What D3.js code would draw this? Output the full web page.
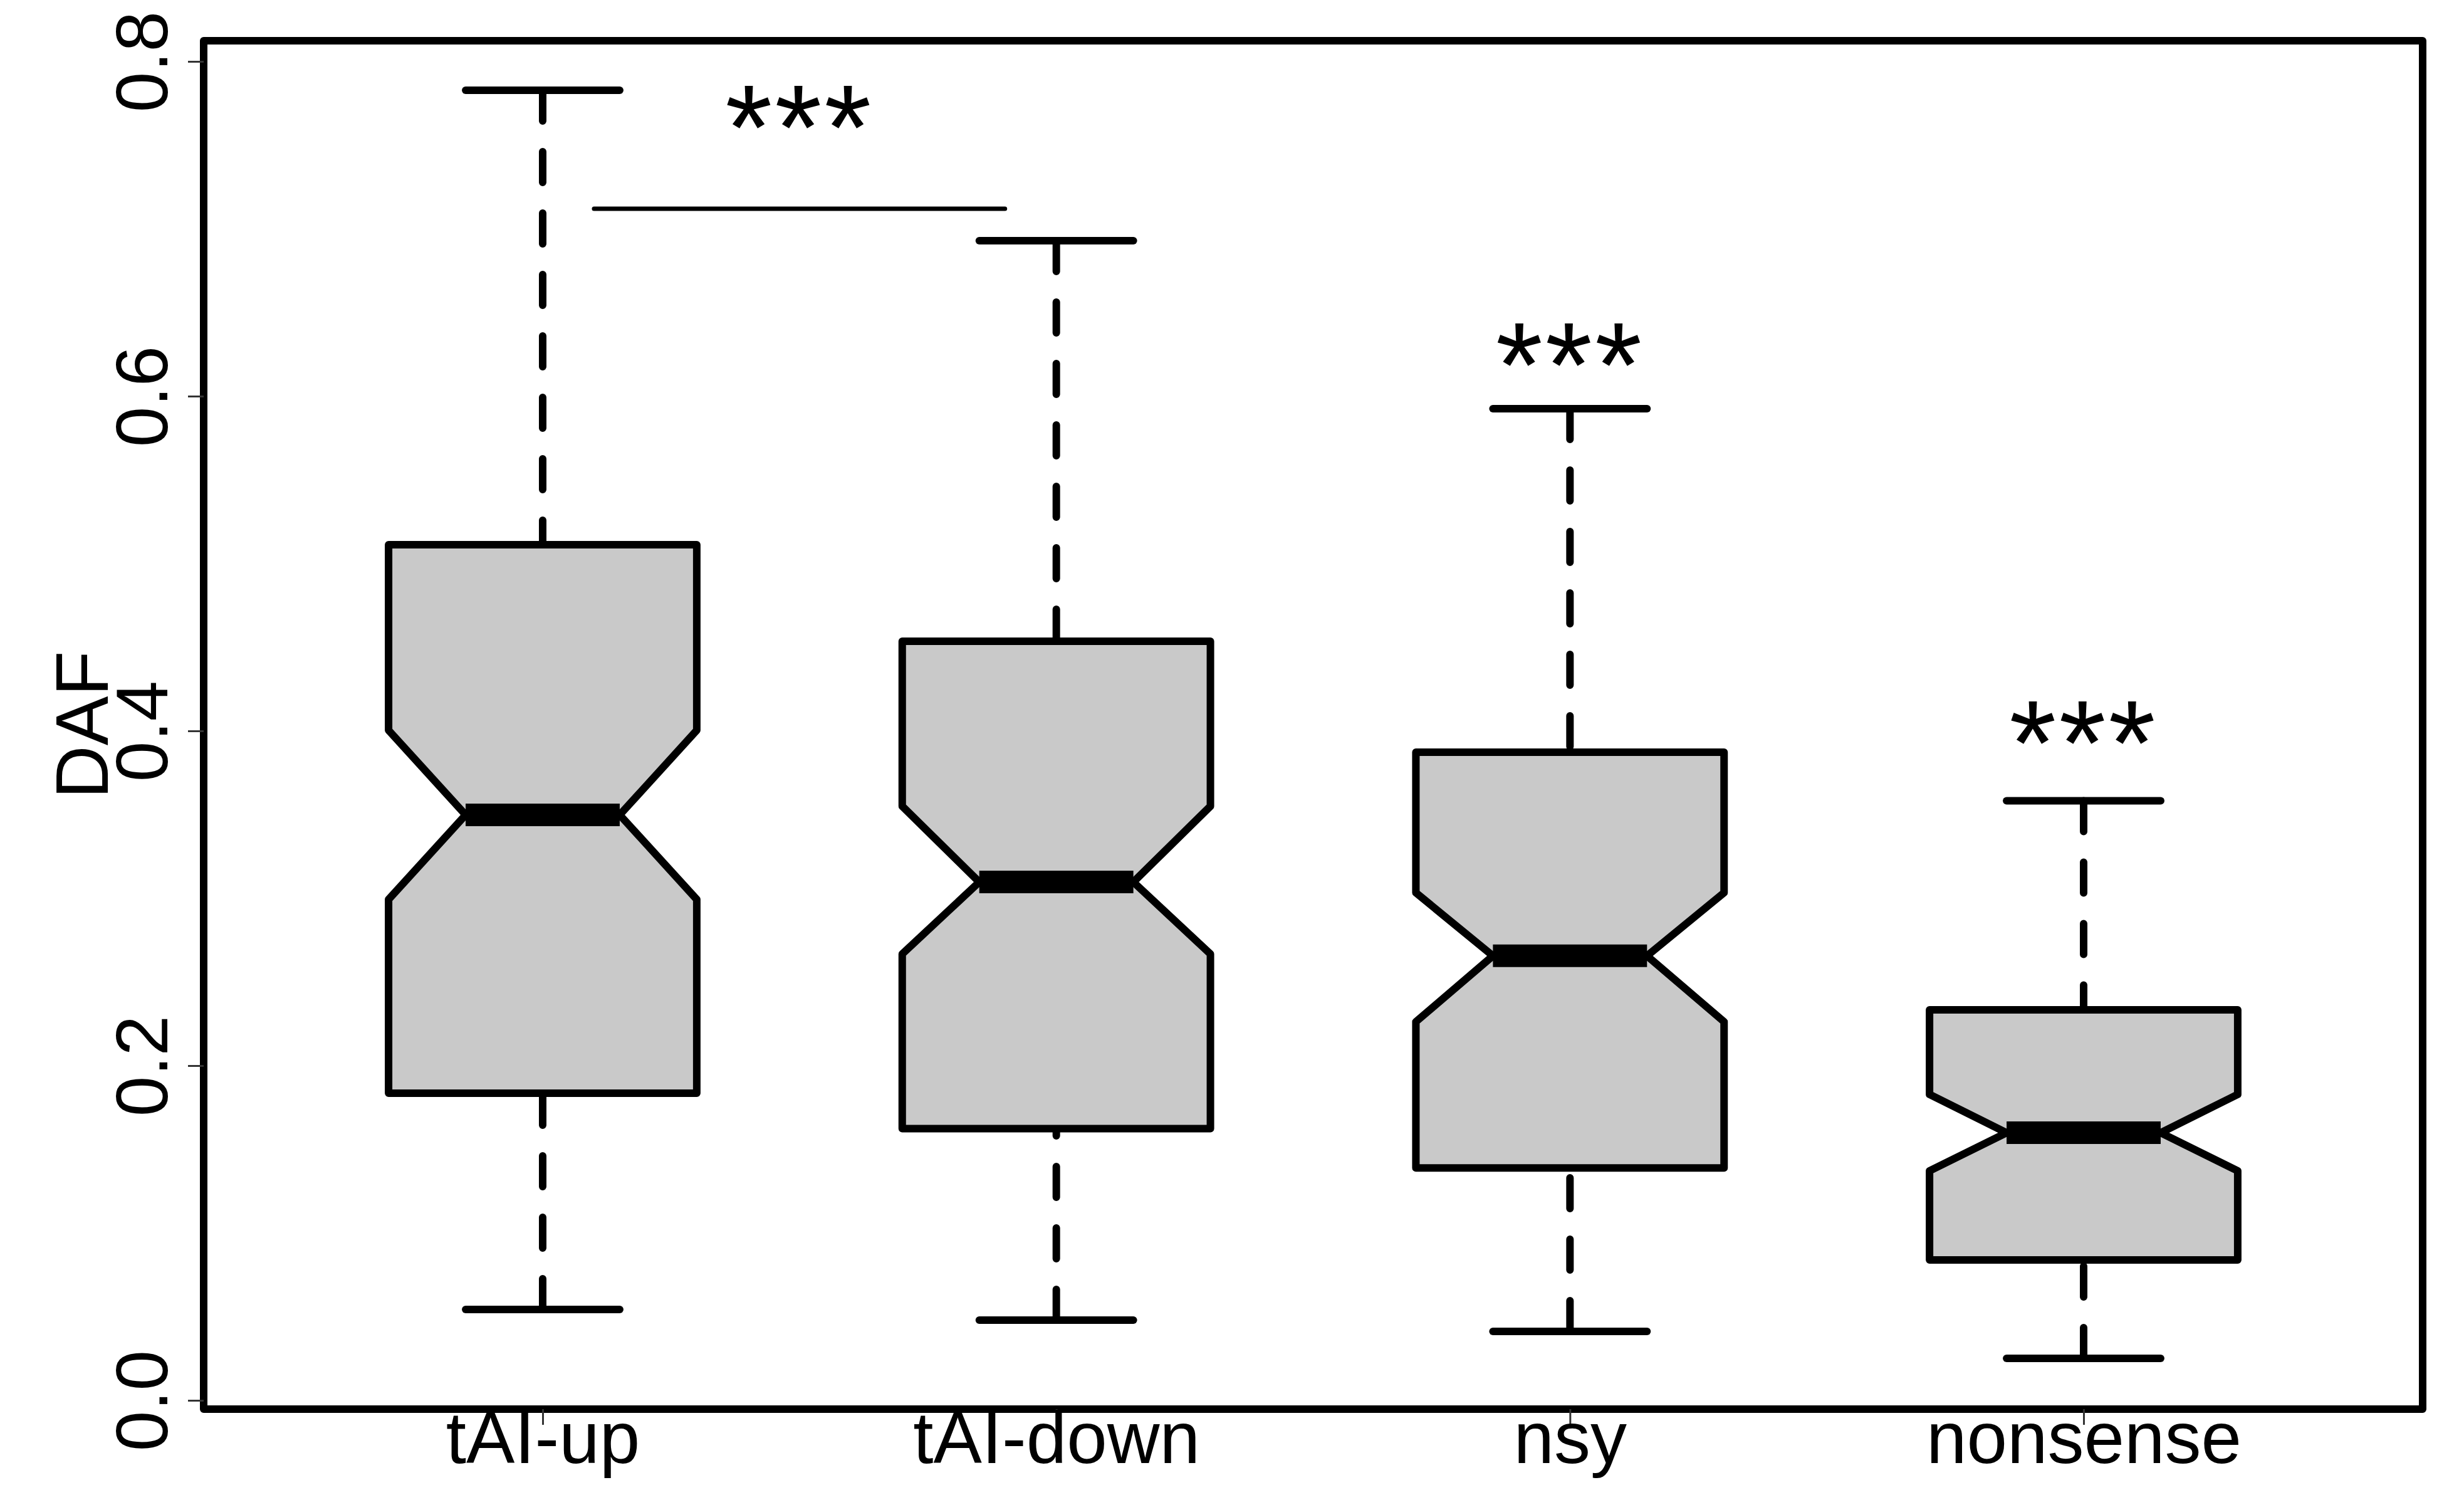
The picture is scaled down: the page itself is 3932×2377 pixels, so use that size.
<!DOCTYPE html>
<html>
<head>
<meta charset="utf-8">
<script src="https://cdn.jsdelivr.net/npm/d3@7"></script>
<style>
  html, body { margin: 0; padding: 0; background: #ffffff; }
  svg { display: block; }
  text { font-family: "Liberation Sans", Arial, sans-serif; fill: #000; }
</style>
</head>
<body>
<svg id="chart" width="3932" height="2377"></svg>
<script>
// ---- data ----
const categories = ["tAI-up", "tAI-down", "nsy", "nonsense"];
const whiskerLow  = [0.0543, 0.0479, 0.0412, 0.0251];
const q1          = [0.1835, 0.1624, 0.1389, 0.0839];
const notchLow    = [0.2993, 0.2667, 0.2262, 0.1371];
const medians     = [0.3498, 0.3097, 0.2656, 0.1599];
const notchHigh   = [0.4004, 0.3550, 0.3033, 0.1828];
const q3          = [0.5112, 0.4536, 0.3873, 0.2333];
const whiskerHigh = [0.7828, 0.6929, 0.5925, 0.3582];
const yTicks = [0.0, 0.2, 0.4, 0.6, 0.8];
const yLabel = "DAF";
// significance annotations
const sigBracket = { x1: 1.1, x2: 1.9, y: 0.712 };
const sigStars = [
  { x: 1.5, y: 0.772, label: "***" },
  { x: 3,   y: 0.630, label: "***" },
  { x: 4,   y: 0.404, label: "***" }
];

// ---- layout ----
const plot = { left: 325, top: 65, right: 3866, bottom: 2248 };
const svg = d3.select("#chart");

const x = d3.scaleLinear().domain([0.34, 4.66]).range([plot.left, plot.right]);
const y = d3.scaleLinear().domain([0, 0.8]).range([2234, 98]);

const boxHalf = 0.3;      // in x units
const innerHalf = 0.15;   // notch / staple half width
const lw = 12;

const g = svg.append("g");

categories.forEach((c, i) => {
  const cx = i + 1;
  const px = v => x(v);
  // whiskers (dashed) from whisker end to hinge
  g.append("line")
    .attr("x1", px(cx)).attr("x2", px(cx))
    .attr("y1", y(whiskerHigh[i])).attr("y2", y(q3[i]))
    .attr("stroke", "#000").attr("stroke-width", lw)
    .attr("stroke-dasharray", "49,49").attr("stroke-linecap", "round");
  g.append("line")
    .attr("x1", px(cx)).attr("x2", px(cx))
    .attr("y1", y(whiskerLow[i])).attr("y2", y(q1[i]))
    .attr("stroke", "#000").attr("stroke-width", lw)
    .attr("stroke-dasharray", "49,49").attr("stroke-linecap", "round");
  // staples
  [whiskerHigh[i], whiskerLow[i]].forEach(v => {
    g.append("line")
      .attr("x1", px(cx - innerHalf)).attr("x2", px(cx + innerHalf))
      .attr("y1", y(v)).attr("y2", y(v))
      .attr("stroke", "#000").attr("stroke-width", lw)
      .attr("stroke-linecap", "round");
  });
  // notched box
  const pts = [
    [cx - boxHalf, q1[i]],
    [cx - boxHalf, notchLow[i]],
    [cx - innerHalf, medians[i]],
    [cx - boxHalf, notchHigh[i]],
    [cx - boxHalf, q3[i]],
    [cx + boxHalf, q3[i]],
    [cx + boxHalf, notchHigh[i]],
    [cx + innerHalf, medians[i]],
    [cx + boxHalf, notchLow[i]],
    [cx + boxHalf, q1[i]]
  ];
  g.append("path")
    .attr("d", d3.line().x(d => x(d[0])).y(d => y(d[1]))(pts) + "Z")
    .attr("fill", "#c9c9c9").attr("stroke", "#000")
    .attr("stroke-width", lw).attr("stroke-linejoin", "round");
  // median
  g.append("line")
    .attr("x1", px(cx - innerHalf)).attr("x2", px(cx + innerHalf))
    .attr("y1", y(medians[i])).attr("y2", y(medians[i]))
    .attr("stroke", "#000").attr("stroke-width", 36)
    .attr("stroke-linecap", "butt");
});

// significance bracket line
g.append("line")
  .attr("x1", x(sigBracket.x1)).attr("x2", x(sigBracket.x2))
  .attr("y1", y(sigBracket.y)).attr("y2", y(sigBracket.y))
  .attr("stroke", "#000").attr("stroke-width", 7).attr("stroke-linecap", "round");

// stars (y = visual centre of asterisks)
g.selectAll("text.star").data(sigStars).enter().append("text")
  .attr("class", "star")
  .attr("x", d => x(d.x))
  .attr("y", d => y(d.y) + 97)
  .attr("text-anchor", "middle")
  .attr("font-size", 193)
  .attr("letter-spacing", 4)
  .text(d => d.label);

// frame
svg.append("rect")
  .attr("x", plot.left).attr("y", plot.top)
  .attr("width", plot.right - plot.left).attr("height", plot.bottom - plot.top)
  .attr("fill", "none").attr("stroke", "#000").attr("stroke-width", 12)
  .attr("stroke-linejoin", "round");

// y axis
const yAxis = svg.append("g")
  .attr("transform", `translate(${plot.left},0)`)
  .call(d3.axisLeft(y).tickValues(yTicks).tickSize(25).tickFormat(d3.format(".1f")));
yAxis.select(".domain").remove();
yAxis.selectAll(".tick line").attr("stroke", "#333").attr("stroke-width", 3);
yAxis.selectAll(".tick text")
  .attr("transform", "rotate(-90)")
  .attr("x", 0).attr("y", -58).attr("dy", 0)
  .attr("text-anchor", "middle")
  .attr("font-size", 116)
  .attr("font-family", "Liberation Sans, Arial, sans-serif")
  .attr("fill", "#000");

// x axis
const xAxis = svg.append("g")
  .attr("transform", `translate(0,${plot.bottom})`)
  .call(d3.axisBottom(x).tickValues([1, 2, 3, 4]).tickSize(25).tickFormat(d => categories[d - 1]));
xAxis.select(".domain").remove();
xAxis.selectAll(".tick line").attr("stroke", "#333").attr("stroke-width", 3);
xAxis.selectAll(".tick text")
  .attr("y", 86).attr("dy", 0)
  .attr("font-size", 116)
  .attr("font-family", "Liberation Sans, Arial, sans-serif")
  .attr("fill", "#000");

// y label
svg.append("text")
  .attr("transform", `translate(172,${(plot.top + plot.bottom) / 2}) rotate(-90)`)
  .attr("text-anchor", "middle")
  .attr("font-size", 118)
  .text(yLabel);
</script>
</body>
</html>
